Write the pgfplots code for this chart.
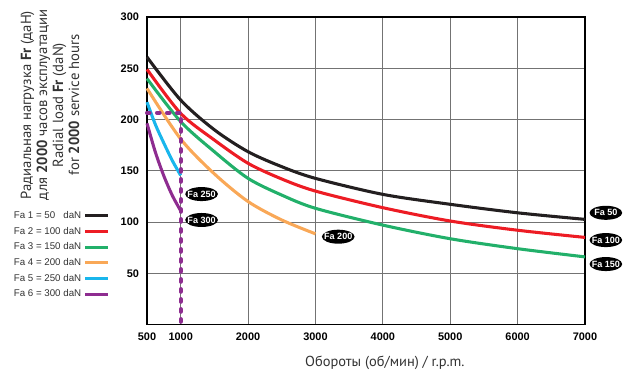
\documentclass[border=0pt]{standalone}
\usepackage{pgfplots}
\pgfplotsset{compat=1.18}
\usepackage{fontspec}
\setmainfont{Liberation Sans}
\newfontfamily\ptsans{PT Sans}
\usetikzlibrary{shapes.geometric}
\definecolor{cBlack}{HTML}{231F20}
\definecolor{cRed}{HTML}{ED1C24}
\definecolor{cGreen}{HTML}{22B06A}
\definecolor{cOrange}{HTML}{F9A857}
\definecolor{cCyan}{HTML}{19B6EC}
\definecolor{cPurple}{HTML}{8E2C90}
\definecolor{cText}{HTML}{333333}
\begin{document}
\begin{tikzpicture}
\useasboundingbox (0,0) rectangle (480pt,291pt);
\begin{axis}[
  at={(110.25pt,47.6pt)}, anchor=south west,
  scale only axis, width=328.5pt, height=230.6pt,
  xmin=500, xmax=7000, ymin=0, ymax=300,
  xtick={500,1000,2000,3000,4000,5000,6000,7000},
  ytick={50,100,150,200,250,300},
  major tick length=0pt,
  grid=major,
  grid style={black!55, line width=0.8pt},
  axis line style={black, line width=1.1pt},
  /pgf/number format/assume math mode=true,
  /pgf/number format/1000 sep={},
  tick label style={font=\bfseries\fontsize{8.2}{9}\selectfont, text=black},
  xticklabel style={yshift=-2.5pt},
  yticklabel style={xshift=-2.5pt},
  clip=false,
  xlabel={Обороты (об/мин) / r.p.m.},
  xlabel style={at={(axis description cs:0.543,-0.124)}, anchor=center, font=\ptsans\fontsize{10.85}{12}\selectfont, text=cText},
  ylabel={Радиальная нагрузка \textbf{Fr} (даН)\\для \textbf{2000} часов эксплуатации\\Radial load \textbf{Fr} (daN)\\for \textbf{2000} service hours},
  ylabel style={at={(axis description cs:-0.2215,0.714)}, anchor=center, align=center, font=\ptsans\fontsize{11}{12}\selectfont, text=cText},
  legend plot pos=right,
  legend cell align=right,
  legend style={at={(axis description cs:-0.0845,0.378)}, anchor=north east, draw=none, fill=none,
    font=\fontsize{7.3}{8.5}\selectfont, row sep=1.0pt, inner sep=0pt, text=cText},
  every axis plot/.append style={line width=2.3pt},
]
\addplot[cBlack, smooth] coordinates {(500,261) (1000,219) (1500,190) (2000,168.6) (2500,154) (3000,142.6) (4000,127) (5000,117.3) (6000,109) (7000,102.6)};
\addlegendentry{Fa 1 = 50\phantom{0} daN}
\addplot[cRed, smooth] coordinates {(500,249) (1000,206) (1500,180) (2000,157.3) (2500,142) (3000,130.2) (4000,114) (5000,101) (6000,92) (7000,85)};
\addlegendentry{Fa 2 = 100 daN}
\addplot[cGreen, smooth] coordinates {(500,240) (1000,198) (1500,168.6) (2000,142.6) (2500,126.3) (3000,113.4) (4000,97) (5000,83.7) (6000,74) (7000,66)};
\addlegendentry{Fa 3 = 150 daN}
\addplot[cOrange, smooth] coordinates {(500,230.4) (1000,181) (1500,147) (2000,120) (2500,102) (3000,88.5)};
\addlegendentry{Fa 4 = 200 daN}
\addplot[cCyan, smooth] coordinates {(500,217) (625,195) (750,177) (875,160) (1000,145.5)};
\addlegendentry{Fa 5 = 250 daN}
\addplot[cPurple, smooth] coordinates {(500,196.3) (625,168) (750,145) (875,126) (1000,111)};
\addlegendentry{Fa 6 = 300 daN}
\addplot[cPurple, line width=3pt, dash pattern=on 2pt off 5.5pt, line cap=round, forget plot] coordinates {(500,206.6) (1000,206.6) (1000,0)};
\tikzset{lab/.style={ellipse, fill=black, text=white, font=\bfseries\fontsize{6.8}{7}\selectfont, inner xsep=-2.5pt, inner ysep=0pt, minimum width=24.5pt, minimum height=10.5pt}}
\node[lab] at (axis cs:7310,109) {Fa 50};
\node[lab] at (axis cs:7310,82.4) {Fa 100};
\node[lab] at (axis cs:7310,59) {Fa 150};
\node[lab] at (axis cs:3338,85.7) {Fa 200};
\node[lab] at (axis cs:1310,127.3) {Fa 250};
\node[lab] at (axis cs:1310,102) {Fa 300};
\end{axis}
\end{tikzpicture}
\end{document}
